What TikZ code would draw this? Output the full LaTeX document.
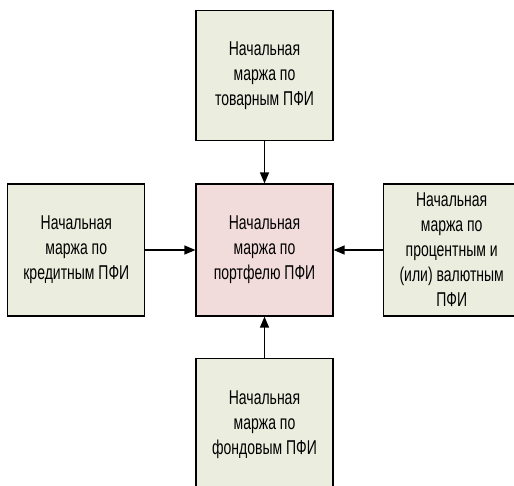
\documentclass[tikz,border=0pt]{standalone}
\usepackage{fontspec}
\setmainfont{Liberation Sans}[FakeStretch=0.7]
\usetikzlibrary{positioning,arrows.meta}
\definecolor{boxgreen}{RGB}{235,238,222}
\definecolor{boxpink}{RGB}{242,220,219}
\begin{document}
\begin{tikzpicture}[
  x = 1pt, y = -1pt,
  every node/.style = {minimum width = 137pt, minimum height = 132pt, draw, line width = 1.2pt,
                       align = center, inner sep = 0pt,
                       font = \fontsize{20}{25}\selectfont},
  part/.style = {fill = boxgreen},
  total/.style = {fill = boxpink},
  feed/.style = {-{Triangle[length = 11pt, width = 9pt]}, line width = 1.3pt}
  ]
  \clip (0,0) rectangle (514,485);
  \node[total] (portfolio) at (264.5,250) {Начальная\\маржа по\\портфелю ПФИ};
  \node[part, above = 42pt of portfolio, minimum height = 130pt] (commodity) {Начальная\\маржа по\\товарным ПФИ};
  \node[part, left = 50pt of portfolio] (credit) {Начальная\\маржа по\\кредитным ПФИ};
  \node[part, right = 49pt of portfolio] (rate) {Начальная\\маржа по\\процентным и\\(или) валютным\\ПФИ};
  \node[part, below = 41pt of portfolio] (equity) {Начальная\\маржа по\\фондовым ПФИ};
  \draw[feed] (commodity) -- (portfolio);
  \draw[feed] (credit) -- (portfolio);
  \draw[feed] (rate) -- (portfolio);
  \draw[feed] (equity) -- (portfolio);
\end{tikzpicture}
\end{document}
